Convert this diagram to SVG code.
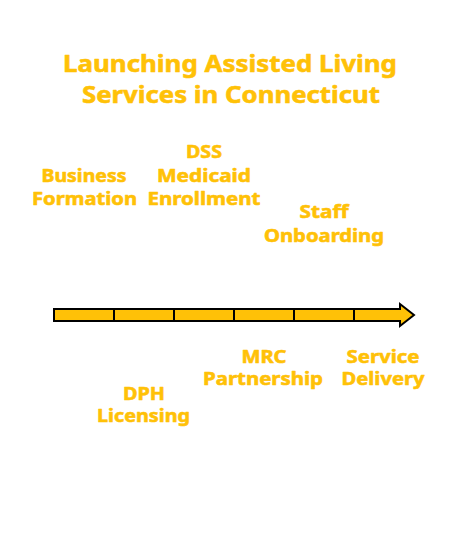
<svg xmlns="http://www.w3.org/2000/svg" width="462" height="546" viewBox="0 0 462 546">
<style>
.t{font-family:"Noto Sans","Liberation Sans",sans-serif;font-weight:700;fill:#FFC107;stroke:#FFC107;stroke-width:0.6;stroke-linejoin:round;text-anchor:middle}
.title{font-size:24px}
.lbl{font-size:18px}
.arrow{fill:#FFC107;stroke:#000;stroke-width:2;stroke-linejoin:miter}
.tick{stroke:#000;stroke-width:2}
</style>
<rect width="462" height="546" fill="#fff"/>
<g id="title">
<text class="t title" x="230" y="72" textLength="334" lengthAdjust="spacingAndGlyphs">Launching Assisted Living</text>
<text class="t title" x="231" y="103" textLength="298" lengthAdjust="spacingAndGlyphs">Services in Connecticut</text>
</g>
<g id="connectors">
<path class="arrow" d="M54,309 H400 V304 L414,315 L400,326 V321 H54 Z"/>
<line class="tick" x1="114" y1="309" x2="114" y2="321"/>
<line class="tick" x1="174" y1="309" x2="174" y2="321"/>
<line class="tick" x1="234" y1="309" x2="234" y2="321"/>
<line class="tick" x1="294" y1="309" x2="294" y2="321"/>
<line class="tick" x1="354" y1="309" x2="354" y2="321"/>
</g>
<g id="business-formation">
<text class="t lbl" x="84" y="182" textLength="85" lengthAdjust="spacingAndGlyphs">Business</text>
<text class="t lbl" x="84.5" y="205" textLength="105" lengthAdjust="spacingAndGlyphs">Formation</text>
</g>
<g id="dph-licensing">
<text class="t lbl" x="144" y="400" textLength="42" lengthAdjust="spacingAndGlyphs">DPH</text>
<text class="t lbl" x="143.5" y="422" textLength="93" lengthAdjust="spacingAndGlyphs">Licensing</text>
</g>
<g id="dss-medicaid">
<text class="t lbl" x="204" y="158" textLength="36" lengthAdjust="spacingAndGlyphs">DSS</text>
<text class="t lbl" x="204" y="182" textLength="94" lengthAdjust="spacingAndGlyphs">Medicaid</text>
<text class="t lbl" x="204" y="205" textLength="113" lengthAdjust="spacingAndGlyphs">Enrollment</text>
</g>
<g id="mrc-partnership">
<text class="t lbl" x="264" y="363" textLength="45" lengthAdjust="spacingAndGlyphs">MRC</text>
<text class="t lbl" x="263" y="385" textLength="120" lengthAdjust="spacingAndGlyphs">Partnership</text>
</g>
<g id="staff-onboarding">
<text class="t lbl" x="324" y="218" textLength="49" lengthAdjust="spacingAndGlyphs">Staff</text>
<text class="t lbl" x="324" y="242" textLength="120" lengthAdjust="spacingAndGlyphs">Onboarding</text>
</g>
<g id="service-delivery">
<text class="t lbl" x="383" y="363" textLength="73" lengthAdjust="spacingAndGlyphs">Service</text>
<text class="t lbl" x="383" y="385" textLength="83" lengthAdjust="spacingAndGlyphs">Delivery</text>
</g>
</svg>
